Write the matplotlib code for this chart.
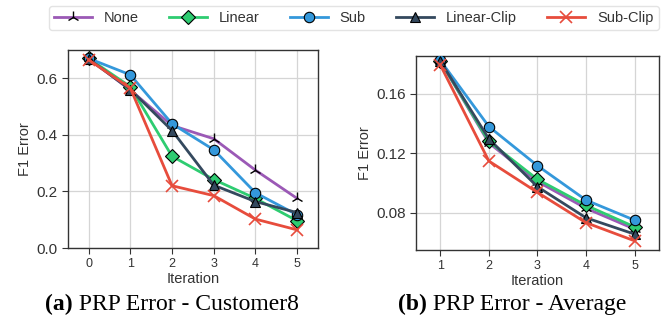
import numpy as np
import matplotlib
matplotlib.use("Agg")
import matplotlib.pyplot as plt

plt.rcParams['font.family'] = ['Liberation Sans', 'DejaVu Sans']

labels = ["None", "Linear", "Sub", "Linear-Clip", "Sub-Clip"]
colors = ["#9b59b6", "#2ecc71", "#3498db", "#34495e", "#e74c3c"]
markers = ["2", "D", "o", "^", "x"]

# (a) Customer8
iters_a = [0, 1, 2, 3, 4, 5]
cust8 = {
    "None":        [0.670, 0.558, 0.433, 0.386, 0.275, 0.175],
    "Linear":      [0.670, 0.570, 0.324, 0.242, 0.175, 0.096],
    "Sub":         [0.670, 0.612, 0.439, 0.347, 0.195, 0.117],
    "Linear-Clip": [0.668, 0.560, 0.415, 0.222, 0.164, 0.125],
    "Sub-Clip":    [0.665, 0.565, 0.220, 0.185, 0.102, 0.064],
}

# (b) Average
iters_b = [1, 2, 3, 4, 5]
avg = {
    "None":        [0.182, 0.127, 0.101, 0.083, 0.069],
    "Linear":      [0.182, 0.128, 0.1025, 0.085, 0.0705],
    "Sub":         [0.1825, 0.138, 0.1117, 0.0885, 0.075],
    "Linear-Clip": [0.182, 0.1297, 0.0975, 0.0766, 0.0656],
    "Sub-Clip":    [0.1795, 0.1148, 0.0937, 0.0733, 0.0611],
}

fig = plt.figure(figsize=(6.71, 3.2), dpi=100)
ax1 = fig.add_axes([0.101, 0.225, 0.373, 0.619])
ax2 = fig.add_axes([0.620, 0.219, 0.362, 0.606])


def draw(ax, xs, data):
    handles = []
    for lab, c, m in zip(labels, colors, markers):
        if m == "2":
            kw = dict(markersize=9, markeredgecolor="black", markeredgewidth=1.0)
        elif m == "x":
            kw = dict(markersize=8, markeredgecolor=c, markeredgewidth=1.2)
        else:
            kw = dict(markersize=7.5 if m != "D" else 7, markeredgecolor="black",
                      markeredgewidth=0.8)
        h, = ax.plot(xs, data[lab], color=c, marker=m, linewidth=2,
                     markerfacecolor=c, label=lab, zorder=3, **kw)
        handles.append(h)
    ax.grid(True, color="#d5d5d5", linewidth=0.9, zorder=0)
    ax.set_axisbelow(True)
    for s in ax.spines.values():
        s.set_color("#333333")
        s.set_linewidth(1.0)
    ax.tick_params(axis="y", labelsize=11, colors="#333333", length=4, width=0.8)
    ax.tick_params(axis="x", labelsize=9, colors="#333333", length=4, width=0.8)
    ax.set_xlabel("Iteration", fontsize=10.5, color="#333333", labelpad=1)
    ax.set_ylabel("F1 Error", fontsize=10.5, color="#333333", labelpad=3)
    return handles


handles = draw(ax1, iters_a, cust8)
ax1.set_xlim(-0.5, 5.5)
ax1.set_ylim(0.0, 0.7)
ax1.set_xticks(iters_a)
ax1.set_yticks([0.0, 0.2, 0.4, 0.6])

draw(ax2, iters_b, avg)
ax2.set_xlim(0.5, 5.5)
ax2.set_ylim(0.055, 0.1855)
ax2.set_xticks(iters_b)
ax2.set_yticks([0.08, 0.12, 0.16])

leg = fig.legend(handles, labels, loc="center", bbox_to_anchor=(0.527, 0.944),
                 ncol=5, fontsize=10.5, frameon=True, handlelength=2.6,
                 columnspacing=2.1, handletextpad=0.8, borderpad=0.35)
leg.get_frame().set_edgecolor("#dddddd")
leg.get_frame().set_linewidth(1.0)
for t in leg.get_texts():
    t.set_color("#333333")

# captions: bold "(a)"/"(b)" followed by regular text, centered as a pair
fig.canvas.draw()
r = fig.canvas.get_renderer()
for xc, bold, rest in [(0.256, "(a)", " PRP Error - Customer8"),
                       (0.763, "(b)", " PRP Error - Average")]:
    t1 = fig.text(0, 0.03, bold, fontweight="bold", ha="left", va="baseline",
                  fontsize=17, family="Liberation Serif")
    t2 = fig.text(0, 0.03, rest, ha="left", va="baseline",
                  fontsize=17, family="Liberation Serif")
    w1 = t1.get_window_extent(r).width / fig.bbox.width
    w2 = t2.get_window_extent(r).width / fig.bbox.width
    x0 = xc - (w1 + w2) / 2
    t1.set_x(x0)
    t2.set_x(x0 + w1)

fig.savefig("out.png", dpi=100)
